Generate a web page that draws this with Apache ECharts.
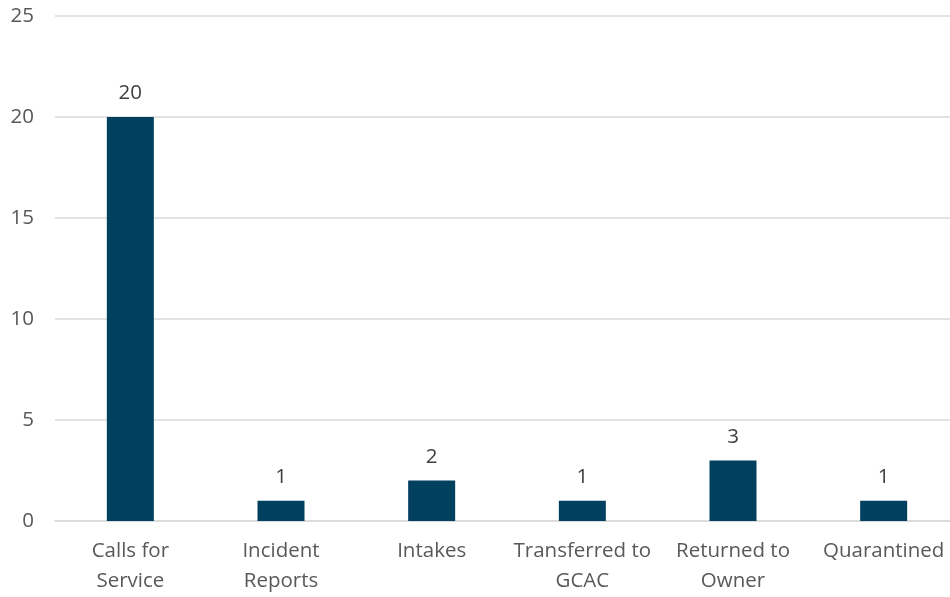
<!DOCTYPE html>
<html><head><meta charset="utf-8">
<script src="https://cdn.jsdelivr.net/npm/echarts@6/dist/echarts.min.js"></script>
<style>html,body{margin:0;padding:0;background:#fff}#c{width:950px;height:597px}</style>
</head><body><div id="c"></div>
<script>
const categories = ["Calls for\nService", "Incident\nReports", "Intakes", "Transferred to\nGCAC", "Returned to\nOwner", "Quarantined"];
const values = [20, 1, 2, 1, 3, 1];
const yTicks = { min: 0, max: 25, interval: 5 };

const chart = echarts.init(document.getElementById('c'), null, { renderer: 'canvas' });
const font = '"Open Sans", "Liberation Sans", sans-serif';
chart.setOption({
  animation: false,
  grid: { left: 55, width: 904, top: 16, bottom: 76, containLabel: false, outerBoundsMode: 'none' },
  xAxis: {
    type: 'category', data: categories,
    axisLine: { lineStyle: { color: '#d9d9d9', width: 1.5 } },
    axisTick: { show: false },
    axisLabel: { color: '#595959', fontSize: 20.5, fontFamily: font, margin: 15, lineHeight: 30, interval: 0 }
  },
  yAxis: {
    type: 'value', min: yTicks.min, max: yTicks.max, interval: yTicks.interval,
    axisLine: { show: false }, axisTick: { show: false },
    splitLine: { lineStyle: { color: '#d9d9d9', width: 1.5 } },
    axisLabel: { color: '#595959', fontSize: 20.5, fontFamily: font, margin: 21 }
  },
  series: [{
    type: 'bar', data: values, barWidth: 47,
    itemStyle: { color: '#02405f' },
    label: { show: true, position: 'top', distance: 13, color: '#404040', fontSize: 20.5, fontFamily: font }
  }]
});
</script></body></html>
